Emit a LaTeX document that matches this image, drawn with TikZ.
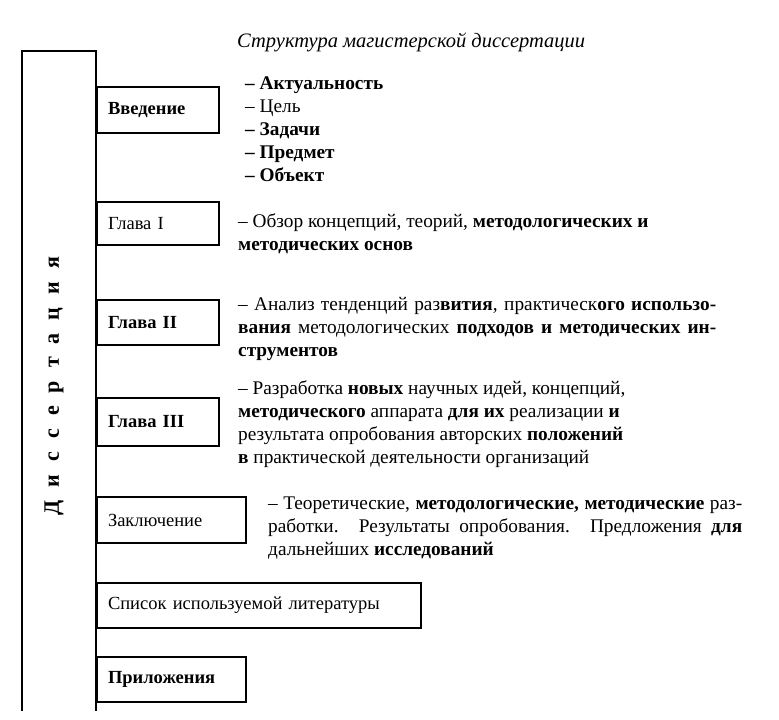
\documentclass[tikz,border=0pt]{standalone}
\usepackage{fontspec}
\setmainfont{Liberation Serif}

\tikzset{
  frame/.style={line width=2pt},
  partbox/.style={draw, line width=2pt, anchor=west, minimum height=45pt,
    inner xsep=11pt, align=left, font=\fontsize{18.5}{22}\selectfont},
  note/.style={anchor=north west, inner sep=0pt, font=\fontsize{19.3}{23}\selectfont},
}

\begin{document}
\begin{tikzpicture}[x=1pt,y=-1pt]
        \useasboundingbox (0,0) rectangle (779,720);

        % title
        \node[anchor=west, inner sep=0pt, font=\fontsize{20.5}{24}\selectfont\itshape] (title) at (237,42) {Структура магистерской диссертации};

        % the dissertation column
        \draw[frame] (22,711) -- (22,51) -- (96,51) -- (96,711);
        \node[rotate=90, font=\fontsize{22}{26}\selectfont\bfseries] (diss) at (54,386)
            {Д\hskip13pt и\hskip13pt с\hskip13pt с\hskip13pt е\hskip13pt р\hskip13pt т\hskip13pt а\hskip13pt ц\hskip13pt и\hskip13pt я};

        % parts
        \node[partbox, text width=100pt, minimum height=46pt] (intro) at (96,110) {\textbf{Введение}};
        \node[partbox, text width=100pt, minimum height=43pt] (ch1) at (96,223.5) {Глава I};
        \node[partbox, text width=100pt] (ch2) at (96,322.5) {\textbf{Глава II}};
        \node[partbox, text width=100pt, minimum height=48pt] (ch3) at (96,422) {\textbf{Глава III}};
        \node[partbox, text width=127pt, minimum height=46pt] (concl) at (96,520) {Заключение};
        \node[partbox, text width=302pt] (lit) at (96,605.5) {Список используемой литературы};
        \node[partbox, text width=127pt] (appx) at (96,679.5) {\textbf{Приложения}};

        % notes
        \node[note, align=left] (introtxt) at (245,77) {\textbf{– Актуальность}\\– Цель\\\textbf{– Задачи}\\\textbf{– Предмет}\\\textbf{– Объект}};
        \node[note, align=left] (ch1txt) at (238,213) {– Обзор концепций, теорий, \textbf{методологических и}\\\textbf{методических основ}};
        \node[note, align=justify, text width=478pt] (ch2txt) at (238,297) {– Анализ тенденций раз\textbf{вития}, практическ\textbf{ого использо-}\linebreak
            \textbf{вания} методологических \textbf{подходов и методических ин-}\linebreak
            \textbf{струментов}};
        \node[note, align=left] (ch3txt) at (238,380) {– Разработка \textbf{новых} научных идей, концепций,\\
            \textbf{методического} аппарата \textbf{для их} реализации \textbf{и}\\
            результата опробования авторских \textbf{положений}\\
            \textbf{в} практической деятельности организаций};
        \node[note, align=justify, text width=474pt] (concltxt) at (268,497) {– Теоретические, \textbf{методологические, методические} раз-\linebreak
            работки. Результаты опробования. Предложения \textbf{для}\linebreak
            дальнейших \textbf{исследований}};
    \end{tikzpicture}
\end{document}
